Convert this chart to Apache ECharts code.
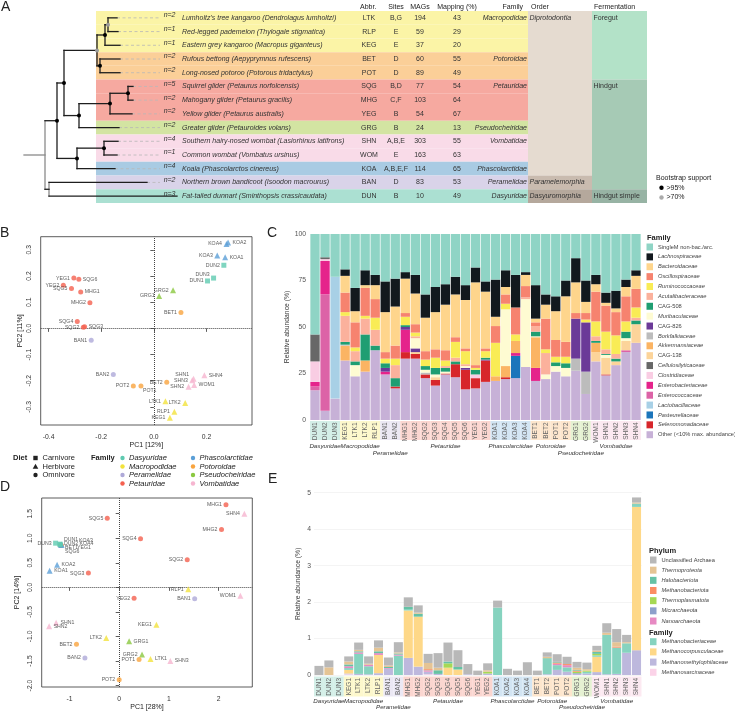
<!DOCTYPE html>
<html>
<head>
<meta charset="utf-8">
<title>Marsupial gut microbiome overview</title>
<script src="https://cdn.jsdelivr.net/npm/echarts@6.0.0/dist/echarts.min.js"></script>
<style>
  html, body { margin: 0; padding: 0; background: #fff; }
  #chart { width: 735px; height: 711px; }
</style>
</head>
<body>
<div id="chart"></div>
<script>
const FONT = '"Liberation Sans", Arial, Helvetica, sans-serif';

// ---------- A: host table ----------
const hostAbbr = ['LTK', 'RLP', 'KEG', 'BET', 'POT', 'SQG', 'MHG', 'YEG', 'GRG', 'SHN', 'WOM', 'KOA', 'BAN', 'DUN'];
const hostNames = [
  "Lumholtz's tree kangaroo (Dendrolagus lumholtzi)",
  'Red-legged pademelon (Thylogale stigmatica)',
  'Eastern grey kangaroo (Macropus giganteus)',
  'Rufous bettong (Aepyprymnus rufescens)',
  'Long-nosed potoroo (Potorous tridactylus)',
  'Squirrel glider (Petaurus norfolcensis)',
  'Mahogany glider (Petaurus gracilis)',
  'Yellow glider (Petaurus australis)',
  'Greater glider (Petauroides volans)',
  'Southern hairy-nosed wombat (Lasiorhinus latifrons)',
  'Common wombat (Vombatus ursinus)',
  'Koala (Phascolarctos cinereus)',
  'Northern brown bandicoot (Isoodon macrourus)',
  'Fat-tailed dunnart (Sminthopsis crassicaudata)'
];
const hostN = [2, 1, 1, 2, 2, 5, 2, 2, 2, 4, 1, 4, 2, 3];
const hostSites = ['B,G', 'E', 'E', 'D', 'D', 'B,D', 'C,F', 'B', 'B', 'A,B,E', 'E', 'A,B,E,F', 'D', 'B'];
const hostMags = [194, 59, 37, 60, 89, 77, 103, 54, 24, 303, 163, 114, 83, 10];
const hostMapping = [43, 29, 20, 55, 49, 54, 64, 67, 13, 55, 63, 65, 53, 49];
const hostFamily = ['Macropodidae', 'Macropodidae', 'Macropodidae', 'Potoroidae', 'Potoroidae', 'Petauridae', 'Petauridae',
  'Petauridae', 'Pseudocheiridae', 'Vombatidae', 'Vombatidae', 'Phascolarctidae', 'Peramelidae', 'Dasyuridae'];
const orderGroups = [['Diprotodontia', 0, 11], ['Paramelemorphia', 12, 12], ['Dasyuromorphia', 13, 13]];
const fermentGroups = [['Foregut', 0, 4], ['Hindgut', 5, 12], ['Hindgut simple', 13, 13]];

// tree: tip branch ends (same order as hostAbbr), internal nodes [id, depth, children, bootstrap]
const treeTipDepth = [93, 94, 96, 96, 96, 109, 109, 108, 95, 94, 93, 91, 123, 153];
const treeNodes = [
  ['mac1', 84, ['LTK', 'RLP'], 70],
  ['mac', 81, ['mac1', 'KEG'], 95],
  ['pot', 76, ['BET', 'POT'], 95],
  ['macpot', 73, ['mac', 'pot'], 70],
  ['pet1', 104, ['SQG', 'MHG'], 95],
  ['pet', 86, ['pet1', 'YEG'], 95],
  ['petps', 55, ['pet', 'GRG'], 95],
  ['top', 40, ['macpot', 'petps'], 95],
  ['vomb', 80, ['SHN', 'WOM'], 95],
  ['vombkoa', 53, ['vomb', 'KOA'], 95],
  ['dipro', 33, ['top', 'vombkoa'], 95],
  ['bd', 25, ['BAN', 'DUN'], 0],
  ['root', 21, ['dipro', 'bd'], 0]
];

// ---------- B / D: PCA ----------
const pcaB = [
  ['KOA1', 0.271, 0.272], ['KOA2', 0.282, 0.328], ['KOA3', 0.241, 0.278], ['KOA4', 0.276, 0.322],
  ['DUN1', 0.204, 0.181], ['DUN2', 0.266, 0.241], ['DUN3', 0.227, 0.192],
  ['GRG1', 0.020, 0.124], ['GRG2', 0.073, 0.146], ['BET1', 0.103, 0.061], ['BET2', 0.049, -0.206],
  ['POT1', -0.049, -0.220], ['POT2', -0.078, -0.220], ['YEG1', -0.304, 0.192], ['YEG2', -0.344, 0.165],
  ['SQG2', -0.268, 0.004], ['SQG3', -0.263, 0.006], ['SQG4', -0.291, 0.026], ['SQG5', -0.313, 0.152], ['SQG6', -0.285, 0.188],
  ['MHG1', -0.278, 0.139], ['MHG2', -0.243, 0.098], ['BAN1', -0.238, -0.045], ['BAN2', -0.154, -0.176],
  ['SHN1', 0.151, -0.192], ['SHN2', 0.132, -0.223], ['SHN3', 0.146, -0.198], ['SHN4', 0.192, -0.179], ['WOM1', 0.153, -0.216],
  ['LTK1', 0.044, -0.278], ['LTK2', 0.119, -0.285], ['RLP1', 0.078, -0.318], ['KEG1', 0.061, -0.341]
];
const pcaD = [
  ['MHG1', 2.15, 1.68], ['SHN4', 2.52, 1.50], ['SQG5', -0.24, 1.41], ['MHG2', 2.06, 1.18], ['SQG4', 0.43, 0.99],
  ['DUN3', -1.28, 0.90], ['SQG6', -1.17, 0.86], ['YEG1', -1.18, 0.86], ['BET1', -1.17, 0.86], ['KOA4', -1.16, 0.87],
  ['KOA3', -1.17, 0.87], ['DUN2', -1.19, 0.87], ['DUN1', -1.19, 0.88],
  ['KOA2', -1.25, 0.46], ['KOA1', -1.40, 0.34], ['SQG3', -0.62, 0.29], ['SQG2', 1.37, 0.56],
  ['RLP1', 1.39, -0.04], ['YEG2', 0.30, -0.22], ['BAN1', 1.52, -0.23], ['WOM1', 2.44, -0.17],
  ['SHN1', -1.27, -0.72], ['SHN2', -1.41, -0.79], ['KEG1', 0.75, -0.76], ['LTK2', -0.26, -1.03],
  ['GRG1', 0.20, -1.10], ['BET2', -0.86, -1.16], ['GRG2', 0.46, -1.37], ['BAN2', -0.69, -1.44],
  ['POT1', 0.40, -1.47], ['LTK1', 0.63, -1.46], ['SHN3', 1.03, -1.50], ['POT2', 0.00, -1.88]
];

const familyOf = {
  DUN: 'Dasyuridae', KEG: 'Macropodidae', LTK: 'Macropodidae', RLP: 'Macropodidae', BAN: 'Peramelidae',
  MHG: 'Petauridae', SQG: 'Petauridae', YEG: 'Petauridae', KOA: 'Phascolarctidae', BET: 'Potoroidae',
  POT: 'Potoroidae', GRG: 'Pseudocheiridae', WOM: 'Vombatidae', SHN: 'Vombatidae'
};
const dietOf = {
  DUN: 'Carnivore', BET: 'Omnivore', POT: 'Omnivore', SQG: 'Omnivore', MHG: 'Omnivore', YEG: 'Omnivore', BAN: 'Omnivore',
  KEG: 'Herbivore', LTK: 'Herbivore', RLP: 'Herbivore', KOA: 'Herbivore', GRG: 'Herbivore', WOM: 'Herbivore', SHN: 'Herbivore'
};
const diets = ['Carnivore', 'Herbivore', 'Omnivore'];
const families = ['Dasyuridae', 'Macropodidae', 'Peramelidae', 'Petauridae', 'Phascolarctidae', 'Potoroidae', 'Pseudocheiridae', 'Vombatidae'];

// ---------- C: bacterial families (% of reads), stacked bottom -> top ----------
const samples = ['DUN1', 'DUN2', 'DUN3', 'KEG1', 'LTK1', 'LTK2', 'RLP1', 'BAN1', 'BAN2', 'MHG1', 'MHG2', 'SQG2', 'SQG3',
  'SQG4', 'SQG5', 'SQG6', 'YEG1', 'YEG2', 'KOA1', 'KOA2', 'KOA3', 'KOA4', 'BET1', 'BET2', 'POT1', 'POT2', 'GRG1',
  'GRG2', 'WOM1', 'SHN1', 'SHN2', 'SHN3', 'SHN4'];
const bacOther = [16, 5, 11.5, 32, 23.5, 26, 37.5, 24.5, 17, 33, 33, 22.5, 18.5, 24.5, 23, 16.5, 17, 20.5, 21, 22, 22.5, 28.5, 21, 22, 26, 23.5, 26.5, 14, 31.5, 24, 29.5, 36.5, 41.5];
const bacSelenomonadaceae = [0, 0, 0, 0, 0, 0, 0, 0, 1, 3.5, 2.5, 2, 3, 0.5, 7, 10.5, 5.5, 11.5, 0, 1, 0, 0, 0, 0, 0, 0, 0, 0, 0, 0.5, 0, 0, 0];
const bacPasteurellaceae = [0, 0, 0, 0, 0, 0, 0, 0, 0, 0, 0, 0, 0, 0, 0, 0, 0, 0, 0, 0, 12, 0, 0, 0, 0, 0, 0, 0, 0, 0, 0, 0, 0];
const bacLactobacillaceae = [0, 0, 65.5, 0, 0, 0, 0, 0, 0, 0, 0, 0, 0, 0, 0, 0, 0, 0, 0, 0, 0, 0, 0, 0, 0, 0, 0, 0, 0, 0, 0, 0, 0];
const bacEnterococcaceae = [2, 62.5, 0, 0, 0, 0, 0, 0, 0, 0, 0, 0, 0, 0, 0, 0, 0, 0, 0, 0, 0, 0, 0, 0, 0, 0, 0, 0, 0, 0, 0, 1, 0];
const bacEnterobacteriaceae = [2.5, 18, 0, 0, 0, 0, 0, 1.5, 0, 12, 0, 0, 0, 0, 0, 0, 0, 0, 0, 0, 1.5, 0, 7, 0, 0, 0, 0, 0, 0, 0, 0, 0, 0];
const bacClostridiaceae = [11, 1, 0, 0, 0, 0, 0, 0, 0, 0, 0, 0, 0, 0, 0, 0, 2, 0, 0, 0, 0, 0, 0, 0, 0, 0, 0, 0, 0, 0, 0, 0, 0];
const bacCellulosilyticaceae = [14.5, 1, 0, 0, 0, 0, 0, 0, 0, 0, 0, 0, 0, 0, 0, 0, 0, 0, 0, 0, 0, 0, 0, 0, 0, 0, 0, 0, 0, 0, 0, 0, 0];
const bacCAG138 = [0, 0, 0, 0, 0, 0, 0, 0, 0, 0, 1, 0, 1.5, 0, 0, 0, 0, 0, 0, 0, 0, 0, 0, 0, 0, 0, 0, 0, 5, 9, 2, 5, 10];
const bacAkkermansiaceae = [0, 0, 0, 8, 0, 6, 0, 0, 0, 0, 0, 0, 0, 0, 0, 0, 0, 0, 2.5, 6, 6.5, 0, 16.5, 0, 0, 0, 0, 0, 5, 0, 0, 0, 0];
const bacBorkfalkiaceae = [0, 0, 0, 0.5, 0, 0, 0, 0, 0, 0, 0, 1, 0, 0, 0, 0, 0, 0, 0, 0, 0, 0, 0, 0, 0, 0, 6.5, 12, 0, 0, 0, 0, 0];
const bacCAG826 = [0, 0, 0, 0, 0, 0, 0, 2, 0, 1.5, 2, 0, 0, 0, 0, 1, 0, 0.5, 0, 0, 0, 0, 0, 0, 0, 0, 21.5, 26.5, 0, 0, 0, 0, 0];
const bacMuribaculaceae = [0, 0, 0, 0, 6, 0, 0, 0, 0, 0, 5.5, 1.5, 1.5, 1, 0, 1, 0, 0, 0, 30.5, 0, 36.5, 0.5, 2.5, 3, 4.5, 0, 0, 0, 1.5, 0, 1.5, 0];
const bacCAG508 = [0, 0, 0, 1.5, 2, 14, 2.5, 2.5, 4.5, 1, 0, 2, 3.5, 2, 1.5, 0, 2.5, 1, 0, 0, 0, 0, 2.5, 0, 2, 2.5, 0, 0, 1, 0.5, 1.5, 3.5, 2];
const bacAcutalibacteraceae = [0, 0, 0, 14, 5.5, 8.5, 8.5, 0, 7, 0, 1, 0, 0, 1, 2, 1, 0, 0, 0, 0, 0, 1, 3, 11.5, 0, 0, 0, 0, 2.5, 2.5, 2.5, 0, 1.5];
const bacRuminococcaceae = [0, 0, 0, 2, 2, 1.5, 6.5, 2.5, 3.5, 4.5, 2, 3.5, 5.5, 3, 8.5, 7, 1, 3.5, 18, 3, 3.5, 0, 0, 2, 3, 3.5, 0, 1.5, 8, 9.5, 10, 5.5, 5.5];
const bacOscillospiraceae = [0, 0, 0, 10.5, 13.5, 15, 10, 3.5, 7, 2, 4.5, 4.5, 4.5, 5.5, 2.5, 1.5, 1.5, 1.5, 9, 5, 14.5, 6, 2, 16.5, 9, 8, 3, 3.5, 16, 14, 12.5, 13.5, 10];
const bacBacteroidaceae = [0, 0, 0, 9, 6, 1.5, 7.5, 21.5, 21, 18.5, 16.5, 18, 20, 24.5, 23, 26, 44.5, 30.5, 5, 4, 0, 6, 2, 7.5, 15.5, 24.5, 16.5, 6, 4, 1.5, 2, 5, 7];
const bacLachnospiraceae = [0, 0, 0, 3.5, 12.5, 8, 5.5, 16.5, 15, 3.5, 10, 12.5, 13.5, 11, 9.5, 8, 8, 5.5, 20, 9, 17.5, 1.5, 18, 5.5, 8, 8.5, 13, 11.5, 5, 5.5, 9.5, 4, 3];
const bacSingleM = [54, 12.5, 23, 19, 29, 19.5, 22, 25.5, 24, 20.5, 22, 32.5, 28.5, 27, 23, 27.5, 18, 25.5, 24.5, 19.5, 22, 20.5, 27.5, 32.5, 33.5, 25, 13, 25, 22, 31.5, 30.5, 24.5, 19.5];

// ---------- E: archaea (% of reads), stacked bottom -> top ----------
const arcMethanosarcinaceae = [0, 0, 0, 0.02, 0, 0, 0, 0, 0, 0, 0, 0.02, 0, 0, 0, 0, 0, 0, 0, 0, 0, 0, 0, 0, 0, 0, 0, 0, 0, 0, 0, 0, 0];
const arcMethanomethylophilaceae = [0, 0, 0, 0.02, 0.03, 0.02, 0.05, 0.17, 0, 0.47, 0.23, 0.07, 0.03, 0, 0, 0.02, 0, 0.04, 0, 0, 0, 0, 0, 0.02, 0.14, 0.09, 0.03, 0.04, 0.08, 0.02, 0.03, 0.61, 0.68];
const arcMethanocorpusculaceae = [0, 0, 0, 0.1, 0, 0, 0.5, 0, 0, 1.3, 1.37, 0, 0, 0.2, 0.15, 0, 0, 0, 0, 0, 0, 0, 0, 0, 0, 0, 0, 0, 0.42, 0, 0, 0, 3.93];
const arcMethanobacteriaceae = [0, 0, 0, 0.05, 0.55, 0.22, 0, 0, 0.53, 0.04, 0, 0, 0, 0, 0, 0, 0, 0, 1.85, 0, 0, 0, 0, 0.42, 0.13, 0.12, 0, 0.05, 0.04, 1.08, 0.72, 0.26, 0.09];
const arcNanoarchaeota = [0, 0, 0, 0.05, 0.04, 0.04, 0.05, 0.02, 0.03, 0, 0, 0.03, 0, 0, 0, 0, 0, 0, 0, 0, 0, 0, 0, 0, 0.04, 0.06, 0, 0, 0, 0, 0, 0, 0];
const arcMicrarchaeota = [0, 0, 0, 0, 0, 0, 0, 0, 0, 0, 0, 0.01, 0, 0, 0, 0, 0, 0, 0, 0, 0, 0, 0, 0, 0, 0, 0.02, 0, 0, 0, 0, 0, 0];
const arcThermoplasmatota = [0, 0, 0, 0, 0, 0, 0, 0, 0, 0, 0, 0, 0, 0.12, 0, 0, 0, 0.05, 0, 0, 0, 0, 0, 0, 0, 0, 0.04, 0.03, 0.04, 0, 0, 0, 0];
const arcMethanobacteriota = [0, 0, 0, 0, 0, 0, 0, 0, 0, 0, 0, 0.03, 0, 0, 0, 0, 0, 0, 0, 0, 0, 0, 0, 0, 0.03, 0.03, 0.03, 0, 0, 0, 0.03, 0, 0];
const arcHalobacteriota = [0, 0, 0, 0.05, 0.03, 0, 0.05, 0.03, 0.03, 0.06, 0.08, 0, 0.1, 0.05, 0.07, 0, 0, 0, 0, 0, 0, 0, 0, 0.02, 0.02, 0, 0.02, 0, 0.05, 0, 0, 0, 0];
const arcThermoproteota = [0, 0.21, 0, 0.08, 0.04, 0.03, 0.1, 0.04, 0.03, 0, 0.03, 0.17, 0.07, 0, 0, 0, 0, 0.04, 0, 0, 0, 0, 0, 0.04, 0, 0, 0.06, 0.04, 0.04, 0.06, 0.12, 0.03, 0.03];
const arcUnclassified = [0.25, 0.19, 0, 0.14, 0.2, 0.2, 0.2, 0.22, 0.28, 0.26, 0.2, 0.25, 0.4, 0.52, 0.46, 0.28, 0.12, 0.19, 0.19, 0.17, 0.12, 0.35, 0.12, 0.12, 0.21, 0.2, 0.16, 0.18, 0.13, 0.26, 0.36, 0.2, 0.14];

// ---------- colours ----------
const familyColor = {
  Dasyuridae: '#5fcab0', Macropodidae: '#f2e23c', Peramelidae: '#aea9d8', Petauridae: '#f4604f',
  Phascolarctidae: '#5b9fd7', Potoroidae: '#f9a43f', Pseudocheiridae: '#8bc840', Vombatidae: '#f6b5d0'
};
const familyRowTint = {
  Dasyuridae: '#abe0d2', Macropodidae: '#fbf4a6', Peramelidae: '#d9d3e9', Petauridae: '#f6a9a0',
  Phascolarctidae: '#a9cbe3', Potoroidae: '#fbcf98', Pseudocheiridae: '#d3e4a2', Vombatidae: '#f9dbe8'
};
const familyStripTint = {
  Dasyuridae: '#d4efe8', Macropodidae: '#fdf8cc', Peramelidae: '#ebe8f4', Petauridae: '#fbd6d0',
  Phascolarctidae: '#d3e5f3', Potoroidae: '#fde6cd', Pseudocheiridae: '#e5f1d2', Vombatidae: '#fce9f1'
};
const orderTint = { Diprotodontia: '#e5dbd0', Paramelemorphia: '#c9bbaf', Dasyuromorphia: '#b5a89c' };
const fermentTint = { Foregut: '#b3e2c8', Hindgut: '#a6cab5', 'Hindgut simple': '#97b3a4' };
const dietSymbol = { Carnivore: 'rect', Herbivore: 'triangle', Omnivore: 'circle' };

const bacSeries = [
  ['Other (<10% max. abundance)', bacOther, '#c7b1d7'],
  ['Selenomonadaceae', bacSelenomonadaceae, '#d7262b'],
  ['Pasteurellaceae', bacPasteurellaceae, '#1c75bb'],
  ['Lactobacillaceae', bacLactobacillaceae, '#a8d0e6'],
  ['Enterococcaceae', bacEnterococcaceae, '#dc63a7'],
  ['Enterobacteriaceae', bacEnterobacteriaceae, '#e5238b'],
  ['Clostridiaceae', bacClostridiaceae, '#f9cde3'],
  ['Cellulosilyticaceae', bacCellulosilyticaceae, '#676767'],
  ['CAG-138', bacCAG138, '#fcd49a'],
  ['Akkermansiaceae', bacAkkermansiaceae, '#fbb463'],
  ['Borkfalkiaceae', bacBorkfalkiaceae, '#bcbcbc'],
  ['CAG-826', bacCAG826, '#6b3a98'],
  ['Muribaculaceae', bacMuribaculaceae, '#fefbd2'],
  ['CAG-508', bacCAG508, '#1f9e72'],
  ['Acutalibacteraceae', bacAcutalibacteraceae, '#fbb19c'],
  ['Ruminococcaceae', bacRuminococcaceae, '#f9ec55'],
  ['Oscillospiraceae', bacOscillospiraceae, '#f6836f'],
  ['Bacteroidaceae', bacBacteroidaceae, '#fed58c'],
  ['Lachnospiraceae', bacLachnospiraceae, '#12191e'],
  ['SingleM non-bac./arc.', bacSingleM, '#8fd4c5']
];
const arcSeries = [
  ['Methanosarcinaceae', arcMethanosarcinaceae, '#fbd3e8'],
  ['Methanomethylophilaceae', arcMethanomethylophilaceae, '#bdb8dd'],
  ['Methanocorpusculaceae', arcMethanocorpusculaceae, '#fed888'],
  ['Methanobacteriaceae', arcMethanobacteriaceae, '#86d3bf'],
  ['Nanoarchaeota', arcNanoarchaeota, '#e78ac3'],
  ['Micrarchaeota', arcMicrarchaeota, '#8da0cb'],
  ['Thermoplasmatota', arcThermoplasmatota, '#a6d854'],
  ['Methanobacteriota', arcMethanobacteriota, '#fc8d62'],
  ['Halobacteriota', arcHalobacteriota, '#66c2a5'],
  ['Thermoproteota', arcThermoproteota, '#e5c494'],
  ['Unclassified Archaea', arcUnclassified, '#b8b8b8']
];
const arcPhyla = ['Unclassified Archaea', 'Thermoproteota', 'Halobacteriota', 'Methanobacteriota', 'Thermoplasmatota', 'Micrarchaeota', 'Nanoarchaeota'];
const arcFamilies = ['Methanobacteriaceae', 'Methanocorpusculaceae', 'Methanomethylophilaceae', 'Methanosarcinaceae'];
const uprightNames = ['SingleM non-bac./arc.', 'Other (<10% max. abundance)', 'CAG-508', 'CAG-826', 'CAG-138', 'Unclassified Archaea'];

// ---------- layout (table columns in table-axis units) ----------
const cols = { nRight: 79.5, name: 86, abbr: 273, sites: 300, mags: 324, mapping: 361, familyRight: 431,
  familyEnd: 432, order: 435, orderEnd: 496, ferm: 497, end: 551 };
const tipDashEnd = 136;

// tree geometry
const treePos = {};
hostAbbr.forEach((a, i) => { treePos[a] = { d: treeTipDepth[i], r: i }; });
const treeSegs = [];
const treeDots = [];
hostAbbr.forEach((a, i) => {
  if (treeTipDepth[i] < tipDashEnd) treeSegs.push([treeTipDepth[i], i, tipDashEnd, i, 'dash']);
});
treeNodes.forEach(([id, d, kids, support]) => {
  const rs = kids.map(k => treePos[k].r);
  treePos[id] = { d, r: (rs[0] + rs[1]) / 2 };
  treeSegs.push([d, rs[0], d, rs[1], support >= 70 ? 'dark' : 'gray']);
  kids.forEach(k => treeSegs.push([d, treePos[k].r, treePos[k].d, treePos[k].r, 'dark']));
  if (support >= 70) treeDots.push([d, treePos[id].r, support]);
});
treeSegs.push([0, treePos.root.r, treePos.root.d, treePos.root.r, 'gray']);

const txt = (x, y, text, align, font, fill, extra) => Object.assign({
  type: 'text',
  style: { x, y, text: String(text), align: align, verticalAlign: 'middle', font: font, fill: fill || '#333' }
}, extra || {});

function renderTableBg(params, api) {
  const i = params.dataIndex;
  const a = api.coord([0, i - 0.5]);
  const b = api.coord([cols.familyEnd, i + 0.5]);
  return { type: 'rect', shape: { x: a[0], y: a[1], width: b[0] - a[0], height: b[1] - a[1] },
    style: { fill: familyRowTint[hostFamily[i]] } };
}
function groupRenderer(groups, x0, x1, tints, italic) {
  return function (params, api) {
    const g = groups[params.dataIndex];
    const a = api.coord([x0, g[1] - 0.5]);
    const b = api.coord([x1, g[2] + 0.5]);
    const t = api.coord([x0 + 1.5, g[1]]);
    return { type: 'group', children: [
      { type: 'rect', shape: { x: a[0], y: a[1], width: b[0] - a[0], height: b[1] - a[1] }, style: { fill: tints[g[0]] } },
      txt(t[0], t[1], g[0], 'left', (italic ? 'italic ' : '') + '7px ' + FONT, '#333')
    ] };
  };
}
function renderTableText(params, api) {
  const i = params.dataIndex;
  const X = c => api.coord([c, i])[0];
  const y = api.coord([0, i])[1];
  const f = '7px ' + FONT, fi = 'italic 7px ' + FONT;
  const kids = [
    txt(X(cols.nRight), y - 2.5, 'n=' + hostN[i], 'right', fi),
    txt(X(cols.name), y, hostNames[i], 'left', fi),
    txt(X(cols.abbr), y, hostAbbr[i], 'center', f),
    txt(X(cols.sites), y, hostSites[i], 'center', f),
    txt(X(cols.mags), y, hostMags[i], 'center', f),
    txt(X(cols.mapping), y, hostMapping[i], 'center', f)
  ];
  if (i === 0 || hostFamily[i] !== hostFamily[i - 1]) kids.push(txt(X(cols.familyRight), y, hostFamily[i], 'right', fi));
  return { type: 'group', children: kids };
}
function renderTree(params, api) {
  const s = treeSegs[params.dataIndex];
  const a = api.coord([s[0], s[1]]);
  const b = api.coord([s[2], s[3]]);
  const style = s[4] === 'dash'
    ? { stroke: '#b8b8b8', lineWidth: 0.8, lineDash: [3, 2.5] }
    : { stroke: s[4] === 'gray' ? '#8a8a8a' : '#1e1e1e', lineWidth: 1.3, lineCap: 'square' };
  return { type: 'line', shape: { x1: a[0], y1: a[1], x2: b[0], y2: b[1] }, style };
}
function renderDots(params, api) {
  const d = treeDots[params.dataIndex];
  const p = api.coord([d[0], d[1]]);
  return { type: 'circle', shape: { cx: p[0], cy: p[1], r: 2 }, style: { fill: d[2] >= 95 ? '#000' : '#9a9a9a' } };
}

// sample strips under the bar panels
const stripGroups = [];
samples.forEach((s, i) => {
  const f = familyOf[s.slice(0, 3)];
  const g = stripGroups[stripGroups.length - 1];
  if (g && g.family === f) g.end = i; else stripGroups.push({ family: f, start: i, end: i });
});
const lowerRow = { Peramelidae: true, Pseudocheiridae: true };
function renderStrip(params, api) {
  const i = params.dataIndex;
  const a = api.coord([i - 0.5, 1]);
  const b = api.coord([i + 0.5, 0]);
  return { type: 'group', children: [
    { type: 'rect', shape: { x: a[0], y: a[1], width: b[0] - a[0], height: b[1] - a[1] },
      style: { fill: familyStripTint[familyOf[samples[i].slice(0, 3)]] } },
    { type: 'text', x: (a[0] + b[0]) / 2, y: a[1] + 1.5, rotation: Math.PI / 2,
      style: { x: 0, y: 0, text: samples[i], align: 'right', verticalAlign: 'middle', font: '6.5px ' + FONT, fill: '#666' } }
  ] };
}
function groupNameRenderer(off1, off2) {
  return function (params, api) {
    const g = stripGroups[params.dataIndex];
    const p = api.coord([(g.start + g.end) / 2, 0]);
    return txt(p[0], p[1] + (lowerRow[g.family] ? off2 : off1), g.family, 'center', 'italic 6.2px ' + FONT, '#333');
  };
}

// scatter points
const labelPosB = {
  KOA2: ['right'], KOA1: ['right'], SQG6: ['right'], MHG1: ['right'], SQG3: ['right'], SHN4: ['right'],
  WOM1: ['right'], POT1: ['right', [-2, 5]], SHN1: ['left', [0, -4]], DUN3: ['left', [0, -4]]
};
const labelPosD = {
  SHN1: ['right'], SHN2: ['right'], GRG1: ['right'], LTK1: ['right'], SHN3: ['right'], KOA2: ['right'], KOA1: ['right'],
  DUN1: ['right', [0, -4.5]], KOA3: ['right', [13.5, -4.5]], DUN2: ['right', [0, -1]], KOA4: ['right', [13.5, -1]],
  BET1: ['right', [0, 2.5]], YEG1: ['right', [12.5, 2.5]], SQG6: ['right', [0, 6]]
};
function scatterItems(points, labelPos) {
  return points.map(([name, x, y]) => {
    const host = name.slice(0, 3);
    const diet = dietOf[host];
    const lp = labelPos[name] || ['left'];
    return {
      name, value: [x, y],
      symbol: dietSymbol[diet],
      symbolSize: diet === 'Herbivore' ? 6 : 5,
      itemStyle: { color: familyColor[familyOf[host]] },
      label: { position: lp[0], offset: lp[1] || [0, 0] }
    };
  });
}
function scatterSeries(idx, points, labelPos) {
  return {
    type: 'scatter', xAxisIndex: idx, yAxisIndex: idx, z: 5,
    data: scatterItems(points, labelPos),
    label: { show: true, formatter: '{b}', fontSize: 5.2, color: '#333', fontFamily: FONT, distance: 1.5 },
    markLine: { silent: true, symbol: ['none', 'none'], label: { show: false }, animation: false,
      lineStyle: { type: 'dotted', color: '#444', width: 1 }, data: [{ xAxis: 0 }, { yAxis: 0 }] }
  };
}
function scatterAxis(grid, min, max, ticks, isY, name, nameGap, digits) {
  return {
    type: 'value', gridIndex: grid, min, max, name, nameLocation: 'middle', nameGap,
    nameTextStyle: { fontSize: 7, color: '#222', fontFamily: FONT },
    axisLine: { show: false }, splitLine: { show: false },
    axisTick: { show: true, inside: false, length: 3.5, customValues: ticks, lineStyle: { color: '#333', width: 0.8 } },
    axisLabel: { customValues: ticks, formatter: v => v.toFixed(digits), fontSize: 6.8, color: '#333', fontFamily: FONT,
      margin: isY ? 8 : 9, rotate: isY ? 90 : 0 }
  };
}
const hidden = (grid, min, max, inverse) => ({ type: 'value', gridIndex: grid, min, max, inverse: !!inverse, show: false });

function legendFormatter(name) {
  return (uprightNames.indexOf(name) >= 0 ? '{n|' : '{i|') + name + '}';
}
function barLegend(data, top, gap, left) {
  return {
    data, orient: 'vertical', left, top, itemWidth: 6.5, itemHeight: 7, itemGap: gap, icon: 'rect',
    selectedMode: false, padding: 0, formatter: legendFormatter,
    textStyle: { fontSize: 5.7, lineHeight: 7, color: '#444', fontFamily: FONT,
      rich: { i: { fontStyle: 'italic', fontSize: 5.7, lineHeight: 7, fontFamily: FONT, color: '#444' },
        n: { fontSize: 5.7, lineHeight: 7, fontFamily: FONT, color: '#444' } } }
  };
}

// free text: panel letters, headers, legends of B/D
const graphics = [];
const gText = (x, y, text, font, align) => graphics.push({ type: 'text', x, y, silent: true,
  style: { x: 0, y: 0, text, font: font || '7px ' + FONT, fill: '#222', align: align || 'left', verticalAlign: 'middle' } });
gText(1, 7, 'A', '14px ' + FONT);
gText(0, 233.5, 'B', '14px ' + FONT);
gText(267, 233, 'C', '14px ' + FONT);
gText(0, 487.5, 'D', '14px ' + FONT);
gText(268, 479, 'E', '14px ' + FONT);
const headY = 7;
gText(96 + cols.abbr - 9, headY, 'Abbr.');
gText(96 + cols.sites, headY, 'Sites', undefined, 'center');
gText(96 + cols.mags, headY, 'MAGs', undefined, 'center');
gText(96 + cols.mapping, headY, 'Mapping (%)', undefined, 'center');
gText(96 + cols.familyRight - 4, headY, 'Family', undefined, 'right');
gText(96 + cols.order, headY, 'Order');
gText(96 + cols.ferm + 1, headY, 'Fermentation');
gText(656, 178, 'Bootstrap support');
graphics.push({ type: 'circle', shape: { cx: 661.5, cy: 187.7, r: 2.2 }, style: { fill: '#000' } });
graphics.push({ type: 'circle', shape: { cx: 661.5, cy: 197.5, r: 2.2 }, style: { fill: '#aaa' } });
gText(666.5, 187.7, '>95%');
gText(666.5, 197.5, '>70%');
// B/D legend
const legRows = [458, 466.5, 475, 483.5];
gText(13, legRows[0], 'Diet', 'bold 7.5px ' + FONT);
diets.forEach((d, k) => {
  const cx = 35.5, cy = legRows[k];
  if (d === 'Carnivore') graphics.push({ type: 'rect', shape: { x: cx - 2.2, y: cy - 2.2, width: 4.4, height: 4.4 }, style: { fill: '#222' } });
  if (d === 'Herbivore') graphics.push({ type: 'polygon', shape: { points: [[cx, cy - 2.8], [cx - 2.8, cy + 2.2], [cx + 2.8, cy + 2.2]] }, style: { fill: '#222' } });
  if (d === 'Omnivore') graphics.push({ type: 'circle', shape: { cx, cy, r: 2.2 }, style: { fill: '#222' } });
  gText(42.5, cy, d, '7.5px ' + FONT);
});
gText(91, legRows[0], 'Family', 'bold 7.5px ' + FONT);
families.forEach((f, k) => {
  const cx = k < 4 ? 122.5 : 193, cy = legRows[k % 4];
  graphics.push({ type: 'circle', shape: { cx, cy, r: 2.2 }, style: { fill: familyColor[f] } });
  gText(cx + 6.5, cy, f, 'italic 7.5px ' + FONT);
});
gText(647, 238, 'Family', 'bold 7.5px ' + FONT);
gText(649, 550.7, 'Phylum', 'bold 7.5px ' + FONT);
gText(649, 633.3, 'Family', 'bold 7.5px ' + FONT);

const chart = echarts.init(document.getElementById('chart'), null, { renderer: 'canvas' });
const noBounds = { outerBoundsMode: 'none', containLabel: false };
chart.setOption({
  animation: false,
  backgroundColor: '#fff',
  textStyle: { fontFamily: FONT },
  grid: [
    Object.assign({ left: 24, top: 11, width: 153, height: 192 }, noBounds),
    Object.assign({ left: 96, top: 11, width: 551, height: 192 }, noBounds),
    Object.assign({ left: 40.7, top: 236.7, width: 211.3, height: 188.3, show: true, borderColor: '#333', borderWidth: 0.8, backgroundColor: 'transparent' }, noBounds),
    Object.assign({ left: 41.7, top: 498, width: 210.6, height: 189, show: true, borderColor: '#333', borderWidth: 0.8, backgroundColor: 'transparent' }, noBounds),
    Object.assign({ left: 310, top: 234, width: 331, height: 186 }, noBounds),
    Object.assign({ left: 310, top: 421, width: 331, height: 19 }, noBounds),
    Object.assign({ left: 314, top: 492.7, width: 327.5, height: 182.3 }, noBounds),
    Object.assign({ left: 314, top: 676.5, width: 327.5, height: 20 }, noBounds)
  ],
  xAxis: [
    hidden(0, 0, 153),
    hidden(1, 0, cols.end),
    scatterAxis(2, -0.43, 0.373, [-0.4, -0.2, 0, 0.2], false, 'PC1 [12%]', 17, 1),
    scatterAxis(3, -1.56, 2.68, [-1, 0, 1, 2], false, 'PC1 [28%]', 17, 0),
    { type: 'category', gridIndex: 4, data: samples, show: false },
    hidden(5, -0.5, samples.length - 0.5),
    { type: 'category', gridIndex: 6, data: samples, show: false },
    hidden(7, -0.5, samples.length - 0.5)
  ],
  yAxis: [
    hidden(0, -0.5, 13.5, true),
    hidden(1, -0.5, 13.5, true),
    scatterAxis(2, -0.369, 0.35, [-0.3, -0.2, -0.1, 0, 0.1, 0.2, 0.3], true, 'PC2 [11%]', 17, 1),
    scatterAxis(3, -2.03, 1.82, [-2, -1.5, -1, -0.5, 0, 0.5, 1, 1.5], true, 'PC2 [14%]', 21, 1),
    { type: 'value', gridIndex: 4, min: 0, max: 100, interval: 25, axisLine: { show: false }, axisTick: { show: false },
      splitLine: { show: false }, axisLabel: { fontSize: 6.8, color: '#555', margin: 4, fontFamily: FONT },
      name: 'Relative abundance (%)', nameLocation: 'middle', nameGap: 17, nameTextStyle: { fontSize: 6.8, color: '#333', fontFamily: FONT } },
    hidden(5, 0, 1),
    { type: 'value', gridIndex: 6, min: 0, max: 5, interval: 1, axisLine: { show: false }, axisTick: { show: false },
      splitLine: { show: true, lineStyle: { color: '#ececec', width: 0.6 } },
      axisLabel: { fontSize: 6.8, color: '#555', margin: 3, fontFamily: FONT },
      name: 'Relative abundance (%)', nameLocation: 'middle', nameGap: 12, nameTextStyle: { fontSize: 6.8, color: '#333', fontFamily: FONT } },
    hidden(7, 0, 1)
  ],
  legend: [
    barLegend(bacSeries.map(s => s[0]).reverse(), 243.5, 2.88, 646.5),
    barLegend(arcPhyla, 556.5, 3.17, 650),
    barLegend(arcFamilies, 638.2, 3.2, 650)
  ],
  graphic: { elements: graphics },
  series: [
    { type: 'custom', xAxisIndex: 1, yAxisIndex: 1, z: 1, silent: true, data: hostAbbr.map((_, i) => [i, i]), renderItem: renderTableBg },
    { type: 'custom', xAxisIndex: 1, yAxisIndex: 1, z: 1, silent: true, data: orderGroups.map((_, k) => [k, k]),
      renderItem: groupRenderer(orderGroups, cols.familyEnd, cols.orderEnd, orderTint, true) },
    { type: 'custom', xAxisIndex: 1, yAxisIndex: 1, z: 1, silent: true, data: fermentGroups.map((_, k) => [k, k]),
      renderItem: groupRenderer(fermentGroups, cols.orderEnd, cols.end, fermentTint, false) },
    { type: 'custom', xAxisIndex: 0, yAxisIndex: 0, z: 2, silent: true, data: treeSegs.map((_, k) => [k, k]), renderItem: renderTree },
    { type: 'custom', xAxisIndex: 0, yAxisIndex: 0, z: 3, silent: true, data: treeDots.map((_, k) => [k, k]), renderItem: renderDots },
    { type: 'custom', xAxisIndex: 1, yAxisIndex: 1, z: 4, silent: true, data: hostAbbr.map((_, i) => [i, i]), renderItem: renderTableText },
    scatterSeries(2, pcaB, labelPosB),
    scatterSeries(3, pcaD, labelPosD),
    ...bacSeries.map(([name, data, color]) => ({
      type: 'bar', name, data, stack: 'bac', xAxisIndex: 4, yAxisIndex: 4, barCategoryGap: '7%',
      itemStyle: { color }, silent: true
    })),
    { type: 'custom', xAxisIndex: 5, yAxisIndex: 5, silent: true, data: samples.map((_, i) => [i, 0]), renderItem: renderStrip },
    { type: 'custom', xAxisIndex: 5, yAxisIndex: 5, silent: true, data: stripGroups.map((_, k) => [k, 0]), renderItem: groupNameRenderer(6.5, 13) },
    ...arcSeries.map(([name, data, color]) => ({
      type: 'bar', name, data, stack: 'arc', xAxisIndex: 6, yAxisIndex: 6, barCategoryGap: '9%',
      itemStyle: { color }, silent: true
    })),
    { type: 'custom', xAxisIndex: 7, yAxisIndex: 7, silent: true, data: samples.map((_, i) => [i, 0]), renderItem: renderStrip },
    { type: 'custom', xAxisIndex: 7, yAxisIndex: 7, silent: true, data: stripGroups.map((_, k) => [k, 0]), renderItem: groupNameRenderer(4.5, 11) }
  ]
});
</script>
</body>
</html>
